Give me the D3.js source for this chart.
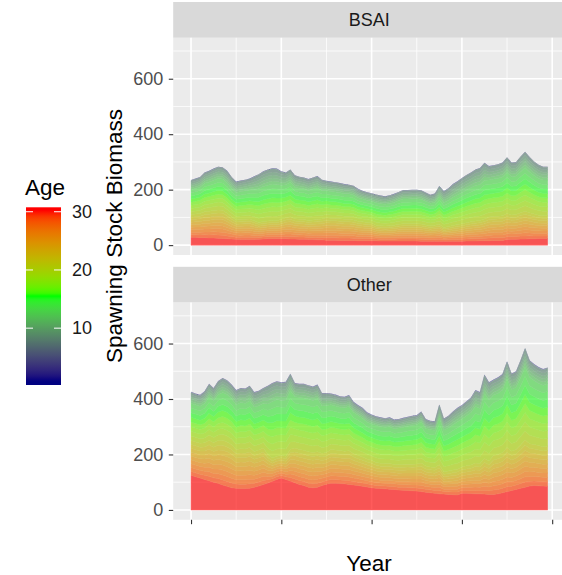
<!DOCTYPE html>
<html><head><meta charset="utf-8">
<script src="https://cdn.jsdelivr.net/npm/d3@7"></script>
<style>body{margin:0;background:#fff} svg{display:block;font-family:"Liberation Sans",Arial,sans-serif}</style>
</head><body><svg id="c" width="562" height="575"></svg>
<script>
// ---------- DATA ----------
const years = d3.range(0, 80); // year index (x categories)
const facets = ["BSAI", "Other"];
const yTicks = [0, 200, 400, 600];
const xTicks = [0, 20, 40, 60, 80];
const legendTicks = [10, 20, 30];
// age groups, stacked bottom -> top
const groupKeys = ["plus", "old", "mid", "young", "rec"];
const groupAges = {
  plus: [30],
  old: [29, 28, 27, 26, 25, 24, 23, 22, 21],
  mid: [20, 19, 18, 17, 16, 15, 14, 13],
  young: [12, 11, 10, 9, 8],
  rec: [7, 6, 5, 4, 3, 2, 1]
};
// BSAI spawning biomass by age group
const bsaiPlus = [28,28,27,27,26,26,25,24,23,22, 21,20,20,20,20,21,22,23,23,23, 23,23,22,22,21,21,20,20,19,19, 18,18,18,17,17,17,17,16,16,16, 16,16,15,15,15,15,15,15,15,15, 15,14,14,14,14,14,14,14,14,14, 14,15,15,15,16,16,16,17,17,17, 20,21,21,22,22,23,23,24,24,24];
const bsaiOld = [82,84,87,93,96,99,102,102,92,80, 70,72,73,74,68,61,63,64,66,65, 70,76,80,73,72,71,69,71,73,75, 81,79,79,78,76,76,74,70,68,66, 64,56,55,54,55,57,60,62,62,62, 62,62,59,56,58,61,50,53,57,60, 63,66,69,72,73,78,85,86,87,89, 94,88,89,95,100,94,89,84,82,82];
const bsaiMid = [90,92,95,103,106,109,113,112,109,102, 99,101,103,105,113,121,126,129,131,131, 123,119,125,114,112,111,108,111,114,103, 98,96,95,94,92,92,90,85,82,80, 78,81,79,78,80,82,86,89,89,90, 90,89,85,81,83,99,90,95,102,107, 113,118,123,128,130,140,134,135,137,140, 148,138,139,148,157,147,139,132,129,129];
const bsaiYoung = [33,34,35,37,38,40,41,41,42,40, 37,38,38,39,45,51,53,55,55,55, 48,42,44,41,40,39,39,40,41,37, 33,34,33,33,33,31,31,30,28,27, 27,28,28,27,28,29,29,31,31,31, 31,31,30,29,29,37,39,41,45,47, 50,52,53,56,57,61,48,48,49,50, 53,49,49,53,56,52,49,48,46,46];
const bsaiRec = [2,2,2,2,2,2,2,2,2,2, 2,2,2,2,2,2,2,2,2,2, 2,2,2,2,2,2,2,2,2,2, 2,2,2,2,2,2,2,2,2,2, 2,2,2,2,2,2,2,2,2,2, 2,2,2,2,2,2,2,2,2,2, 2,2,2,2,2,2,2,2,2,2, 2,2,2,2,2,2,2,2,2,2];
// Other spawning biomass by age group
const otherPlus = [125,120,115,110,105,100,96,90,85,80, 78,77,77,78,82,86,92,97,103,110, 115,110,104,98,92,88,82,80,82,88, 93,96,96,95,94,92,90,88,85,83, 80,78,77,76,75,74,72,71,70,69, 68,66,64,62,60,58,57,56,55,54, 60,60,59,58,58,57,56,56,58,62, 66,70,74,78,82,86,88,87,86,85];
const otherOld = [125,125,125,132,146,142,154,161,160,155, 140,144,143,147,129,130,131,104,84,84, 82,84,115,125,126,127,128,127,128,116, 114,122,120,119,118,121,113,109,106,101, 99,93,91,91,92,90,91,93,95,96, 98,103,94,93,93,105,81,84,89,93, 95,99,103,111,109,128,120,140,142,145, 159,142,144,156,170,153,148,145,142,145];
const otherMid = [134,134,134,142,156,152,165,172,171,166, 161,166,165,169,160,160,162,181,204,204, 198,202,211,186,187,189,190,188,191,172, 170,161,159,156,156,160,149,144,140,133, 131,134,132,131,133,129,132,134,137,139, 141,149,136,134,134,169,149,155,163,171, 173,181,189,204,200,235,221,218,221,225, 248,222,224,243,264,239,231,225,222,226];
const otherYoung = [39,38,38,41,45,43,47,50,49,48, 50,50,50,51,51,51,52,63,64,63, 62,63,58,46,47,48,47,47,48,43, 42,38,38,37,37,38,35,34,34,32, 31,30,31,30,31,30,30,31,31,33, 32,34,31,30,30,45,40,42,45,47, 47,49,51,56,55,65,60,53,54,55, 60,55,55,60,65,59,56,55,55,55];
const otherRec = [3,3,3,3,3,3,3,3,3,3, 3,3,3,3,3,3,3,3,3,3, 3,3,3,3,3,3,3,3,3,3, 3,3,3,3,3,3,3,3,3,3, 3,3,3,3,3,3,3,3,3,3, 3,3,3,3,3,3,3,3,3,3, 3,3,3,3,3,3,3,3,3,3, 3,3,3,3,3,3,3,3,3,3];
const yLimits = [0, 712];
const ageRange = [1, 30];

const facetData = {
  BSAI: {plus: bsaiPlus, old: bsaiOld, mid: bsaiMid, young: bsaiYoung, rec: bsaiRec},
  Other: {plus: otherPlus, old: otherOld, mid: otherMid, young: otherYoung, rec: otherRec}
};

// ---------- LAYOUT ----------
const svg = d3.select("#c");
const X0 = 173.2, X1 = 565.5;
const panelH = 217.2, stripH = 35.8;
const panelTops = [37.8, 302.6];
const xPad = (years[years.length - 1] - years[0]) * 0.05;
const x = d3.scaleLinear().domain([years[0] - xPad, years[years.length - 1] + xPad]).range([X0, X1]);
const yPad = (yLimits[1] - yLimits[0]) * 0.05;

const ageColor = d3.scaleLinear()
  .domain([ageRange[0], (ageRange[0] + ageRange[1]) / 2, ageRange[1]])
  .range(["#000080", "#00ff00", "#ff0000"])
  .interpolate(d3.interpolateLab);

facets.forEach((name, fi) => {
  const top = panelTops[fi];
  const y = d3.scaleLinear().domain([yLimits[0] - yPad, yLimits[1] + yPad]).range([top + panelH, top]);
  const g = svg.append("g");
  // strip
  g.append("rect").attr("x", X0).attr("y", top - stripH).attr("width", X1 - X0).attr("height", stripH).attr("fill", "#d9d9d9");
  g.append("text").attr("x", (X0 + X1) / 2).attr("y", top - stripH / 2).attr("dy", "0.35em")
    .attr("text-anchor", "middle").attr("font-size", 18).attr("fill", "#1a1a1a").text(name);
  // panel
  g.append("rect").attr("x", X0).attr("y", top).attr("width", X1 - X0).attr("height", panelH).attr("fill", "#ebebeb");
  const minorY = [100, 300, 500, 700], minorX = [10, 30, 50, 70];
  g.selectAll(".my").data(minorY).join("line").attr("x1", X0).attr("x2", X1)
    .attr("y1", d => y(d)).attr("y2", d => y(d)).attr("stroke", "#fff").attr("stroke-width", 0.8);
  g.selectAll(".mx").data(minorX).join("line").attr("y1", top).attr("y2", top + panelH)
    .attr("x1", d => x(d)).attr("x2", d => x(d)).attr("stroke", "#fff").attr("stroke-width", 0.8);
  g.selectAll(".Y").data(yTicks).join("line").attr("x1", X0).attr("x2", X1)
    .attr("y1", d => y(d)).attr("y2", d => y(d)).attr("stroke", "#fff").attr("stroke-width", 1.6);
  g.selectAll(".X").data(xTicks).join("line").attr("y1", top).attr("y2", top + panelH)
    .attr("x1", d => x(d)).attr("x2", d => x(d)).attr("stroke", "#fff").attr("stroke-width", 1.6);

  // stacked areas
  const fd = facetData[name];
  const rows = years.map((yr, i) => {
    const r = {year: yr};
    groupKeys.forEach(k => r[k] = fd[k][i]);
    return r;
  });
  const stacked = d3.stack().keys(groupKeys)(rows);
  const ga = g.append("g").attr("opacity", 0.64);
  stacked.forEach(layer => {
    const ages = groupAges[layer.key];
    const n = ages.length;
    const isTop = layer.key === groupKeys[groupKeys.length - 1];
    ages.forEach((age, j) => {
      const area = d3.area()
        .x(d => x(d.data.year))
        .y0(d => y(d[0] + (d[1] - d[0]) * j / n))
        .y1(d => y(d[0] + (d[1] - d[0]) * (j + 1) / n));
      const col = ageColor(age);
      ga.append("path").datum(layer).attr("d", area).attr("fill", col)
        .attr("stroke", isTop ? "none" : col).attr("stroke-width", 0.5).attr("stroke-linejoin", "round");
    });
  });

  // y axis
  const ya = g.append("g").attr("transform", `translate(${X0},0)`)
    .call(d3.axisLeft(y).tickValues(yTicks).tickSize(4.4).tickPadding(5.6));
  ya.select(".domain").remove();
  ya.selectAll("line").attr("stroke", "#333").attr("stroke-width", 1.1);
  ya.selectAll("text").attr("font-size", 18).attr("fill", "#4d4d4d").attr("font-family", "Liberation Sans, Arial, sans-serif");

  if (fi === facets.length - 1) {
    const xa = g.append("g").attr("transform", `translate(0,${top + panelH})`)
      .call(d3.axisBottom(x).tickValues(xTicks).tickSize(4.4).tickFormat(""));
    xa.select(".domain").remove();
    xa.selectAll("line").attr("stroke", "#333").attr("stroke-width", 1.1);
  }
});

// axis titles
svg.append("text").attr("transform", "translate(122,236) rotate(-90)").attr("text-anchor", "middle")
  .attr("font-size", 22.5).attr("fill", "#000").text("Spawning Stock Biomass");
svg.append("text").attr("x", 369).attr("y", 571).attr("text-anchor", "middle")
  .attr("font-size", 22.5).attr("fill", "#000").text("Year");

// legend
const lg = svg.append("g");
lg.append("text").attr("x", 25).attr("y", 195).attr("font-size", 22.5).attr("fill", "#000").text("Age");
const binHalf = (ageRange[1] - ageRange[0]) / 19 / 2;
const barTop = 207.3, barBot = 385, barX = 26, barW = 35;
const ly = d3.scaleLinear().domain([ageRange[0] - binHalf, ageRange[1] + binHalf]).range([barBot, barTop]);
const grad = svg.append("defs").append("linearGradient").attr("id", "ageGrad")
  .attr("x1", 0).attr("y1", 1).attr("x2", 0).attr("y2", 0);
d3.range(0, 61).forEach(i => {
  const v = ageRange[0] - binHalf + (ageRange[1] - ageRange[0] + 2 * binHalf) * i / 60;
  grad.append("stop").attr("offset", i / 60)
    .attr("stop-color", ageColor(Math.max(ageRange[0], Math.min(ageRange[1], v))));
});
lg.append("rect").attr("x", barX).attr("y", barTop).attr("width", barW).attr("height", barBot - barTop).attr("fill", "url(#ageGrad)");
legendTicks.forEach(t => {
  const yy = ly(t);
  lg.append("line").attr("x1", barX).attr("x2", barX + 7).attr("y1", yy).attr("y2", yy).attr("stroke", "#fff").attr("stroke-width", 1);
  lg.append("line").attr("x1", barX + barW - 7).attr("x2", barX + barW).attr("y1", yy).attr("y2", yy).attr("stroke", "#fff").attr("stroke-width", 1);
  lg.append("text").attr("x", 72).attr("y", yy).attr("dy", "0.35em").attr("font-size", 18).attr("fill", "#1a1a1a").text(t);
});
</script></body></html>
